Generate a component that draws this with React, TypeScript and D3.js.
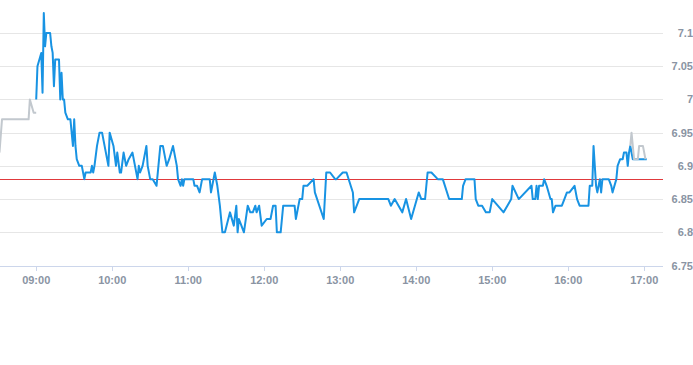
import { useEffect, useRef } from "react";
import * as d3 from "d3";

// pre-market (grey)
const preTimes = ["08:31", "08:33", "08:54", "08:55", "08:58", "09:00"];
const prePrices = [6.92, 6.97, 6.97, 7.0, 6.98, 6.98];

// regular session (blue)
const times = [
  "09:00", "09:01", "09:04", "09:05", "09:06", "09:07", "09:08", "09:11", "09:12", "09:13",
  "09:14", "09:15", "09:18", "09:19", "09:20", "09:21", "09:22", "09:23", "09:25", "09:27",
  "09:29", "09:30", "09:31", "09:32", "09:34", "09:36", "09:38", "09:39", "09:43", "09:44",
  "09:45", "09:46", "09:48", "09:50", "09:52", "09:57", "09:58", "10:01", "10:03", "10:04",
  "10:06", "10:07", "10:09", "10:11", "10:13", "10:16", "10:18", "10:20", "10:21", "10:22",
  "10:24", "10:27", "10:28", "10:30", "10:32", "10:35", "10:38", "10:40", "10:43", "10:45",
  "10:48", "10:51", "10:52", "10:54", "10:55", "10:56", "10:57", "11:04", "11:05", "11:07",
  "11:09", "11:11", "11:17", "11:18", "11:21", "11:23", "11:25", "11:27", "11:29", "11:33",
  "11:36", "11:38", "11:39", "11:40", "11:42", "11:44", "11:47", "11:49", "11:51", "11:53",
  "11:54", "11:56", "11:58", "12:02", "12:05", "12:07", "12:09", "12:10", "12:13", "12:15",
  "12:24", "12:25", "12:28", "12:30", "12:31", "12:34", "12:39", "12:40", "12:47", "12:49",
  "12:52", "12:56", "12:57", "13:02", "13:05", "13:10", "13:11", "13:15", "13:38", "13:40",
  "13:43", "13:49", "13:52", "13:56", "14:02", "14:04", "14:07", "14:09", "14:12", "14:17",
  "14:21", "14:26", "14:36", "14:37", "14:39", "14:46", "14:47", "14:49", "14:52", "14:55",
  "14:58", "15:00", "15:09", "15:15", "15:16", "15:21", "15:31", "15:32", "15:34", "15:35",
  "15:36", "15:37", "15:40", "15:41", "15:43", "15:46", "15:47", "15:48", "15:50", "15:55",
  "15:57", "15:59", "16:01", "16:05", "16:07", "16:09", "16:16", "16:17", "16:19", "16:20",
  "16:22", "16:23", "16:25", "16:26", "16:27", "16:32", "16:34", "16:35", "16:38", "16:39",
  "16:41", "16:43", "16:44", "16:46", "16:47", "16:48", "16:49", "16:51", "17:02",
];
const prices = [
  7.0, 7.05, 7.07, 7.01, 7.13, 7.08, 7.1, 7.1, 7.08, 7.07,
  7.02, 7.06, 7.06, 7.0, 7.04, 7.0, 7.0, 6.98, 6.97, 6.97,
  6.93, 6.97, 6.93, 6.91, 6.9, 6.9, 6.88, 6.89, 6.89, 6.9,
  6.89, 6.9, 6.93, 6.95, 6.95, 6.9, 6.95, 6.93, 6.9, 6.92,
  6.89, 6.89, 6.92, 6.9, 6.91, 6.92, 6.9, 6.88, 6.9, 6.89,
  6.9, 6.93, 6.9, 6.88, 6.88, 6.87, 6.93, 6.93, 6.9, 6.91,
  6.93, 6.9, 6.88, 6.87, 6.88, 6.87, 6.88, 6.88, 6.87, 6.87,
  6.86, 6.88, 6.88, 6.86, 6.89, 6.87, 6.84, 6.8, 6.8, 6.83,
  6.81, 6.84, 6.8, 6.82, 6.81, 6.8, 6.84, 6.83, 6.83, 6.84,
  6.83, 6.84, 6.81, 6.82, 6.82, 6.84, 6.84, 6.8, 6.8, 6.84,
  6.84, 6.82, 6.85, 6.85, 6.87, 6.87, 6.88, 6.86, 6.82, 6.89,
  6.89, 6.88, 6.88, 6.89, 6.89, 6.86, 6.83, 6.85, 6.85, 6.84,
  6.85, 6.83, 6.85, 6.82, 6.86, 6.85, 6.85, 6.89, 6.89, 6.88,
  6.88, 6.85, 6.85, 6.87, 6.88, 6.88, 6.85, 6.84, 6.84, 6.83,
  6.83, 6.85, 6.83, 6.85, 6.87, 6.85, 6.87, 6.85, 6.85, 6.87,
  6.85, 6.87, 6.87, 6.88, 6.87, 6.85, 6.85, 6.83, 6.84, 6.84,
  6.85, 6.86, 6.86, 6.87, 6.85, 6.84, 6.84, 6.87, 6.87, 6.93,
  6.87, 6.86, 6.88, 6.86, 6.88, 6.88, 6.87, 6.86, 6.88, 6.9,
  6.91, 6.91, 6.92, 6.92, 6.9, 6.92, 6.93, 6.91, 6.91,
];

// after hours (grey)
const postTimes = ["16:49", "16:50", "16:52", "16:55", "16:56", "16:59", "17:01"];
const postPrices = [6.93, 6.95, 6.91, 6.91, 6.93, 6.93, 6.91];

const prevClose = 6.88;
const yTicks = [6.75, 6.8, 6.85, 6.9, 6.95, 7.0, 7.05, 7.1];
const xTicks = ["09:00", "10:00", "11:00", "12:00", "13:00", "14:00", "15:00", "16:00", "17:00"];

const toMin = (s: string) => {
  const [h, m] = s.split(":").map(Number);
  return h * 60 + m;
};

export default function App() {
  const ref = useRef(null);
  const width = 693;
  const height = 365;
  const plotRight = 663;

  useEffect(() => {
    draw();
  });

  function draw() {
    const svg = d3.select(ref.current);
    svg.selectAll("*").remove();

    const x = d3
      .scaleLinear()
      .domain([toMin("09:00"), toMin("17:00")])
      .range([36.2, 644.2]);
    const y = d3.scaleLinear().domain([6.75, 7.1]).range([265.5, 33]);

    const labelFont = "'Liberation Sans', Arial, sans-serif";

    // grid lines + y labels
    const grid = svg.append("g");
    grid
      .selectAll("line")
      .data(yTicks)
      .enter()
      .append("line")
      .attr("x1", 0)
      .attr("x2", plotRight)
      .attr("y1", (d) => Math.round(y(d)) + 0.5)
      .attr("y2", (d) => Math.round(y(d)) + 0.5)
      .attr("stroke", (d) => (d === 6.75 ? "#ccd6eb" : "#e6e6e6"))
      .attr("stroke-width", 1);
    grid
      .selectAll("text")
      .data(yTicks)
      .enter()
      .append("text")
      .attr("x", 693)
      .attr("y", (d) => y(d) + 4)
      .attr("text-anchor", "end")
      .attr("font-family", labelFont)
      .attr("font-size", 11)
      .attr("font-weight", 700)
      .attr("fill", "#8a94a3")
      .text((d) => d3.format("")(d));

    // x axis ticks + labels
    const xa = svg.append("g");
    xa.selectAll("line")
      .data(xTicks)
      .enter()
      .append("line")
      .attr("x1", (d) => Math.round(x(toMin(d))) + 0.5)
      .attr("x2", (d) => Math.round(x(toMin(d))) + 0.5)
      .attr("y1", 266)
      .attr("y2", 271)
      .attr("stroke", "#ccd6eb");
    xa.selectAll("text")
      .data(xTicks)
      .enter()
      .append("text")
      .attr("x", (d) => x(toMin(d)))
      .attr("y", 284)
      .attr("text-anchor", "middle")
      .attr("font-family", labelFont)
      .attr("font-size", 11)
      .attr("font-weight", 700)
      .attr("fill", "#8a94a3")
      .text((d) => d);

    const line = d3
      .line<[string, number]>()
      .x((d) => x(toMin(d[0])))
      .y((d) => y(d[1]));

    const pre = preTimes.map((t, i) => [t, prePrices[i]] as [string, number]);
    const main = times.map((t, i) => [t, prices[i]] as [string, number]);
    const post = postTimes.map((t, i) => [t, postPrices[i]] as [string, number]);

    // previous close
    svg
      .append("rect")
      .attr("x", 0)
      .attr("width", plotRight)
      .attr("y", Math.round(y(prevClose)))
      .attr("height", 1)
      .attr("fill", "#e0393c");

    svg
      .append("path")
      .attr("d", line(pre))
      .attr("fill", "none")
      .attr("stroke", "#c2c8ce")
      .attr("stroke-width", 2)
      .attr("stroke-linejoin", "round");
    svg
      .append("path")
      .attr("d", line(main))
      .attr("fill", "none")
      .attr("stroke", "#1893e3")
      .attr("stroke-width", 2)
      .attr("stroke-linejoin", "round");
    svg
      .append("path")
      .attr("d", line(post))
      .attr("fill", "none")
      .attr("stroke", "#c2c8ce")
      .attr("stroke-width", 2)
      .attr("stroke-linejoin", "round");
  }

  return (
    <svg
      width={width}
      height={height}
      ref={ref}
      style={{ position: "absolute", left: 0, top: 0, background: "#fff" }}
    ></svg>
  );
}
